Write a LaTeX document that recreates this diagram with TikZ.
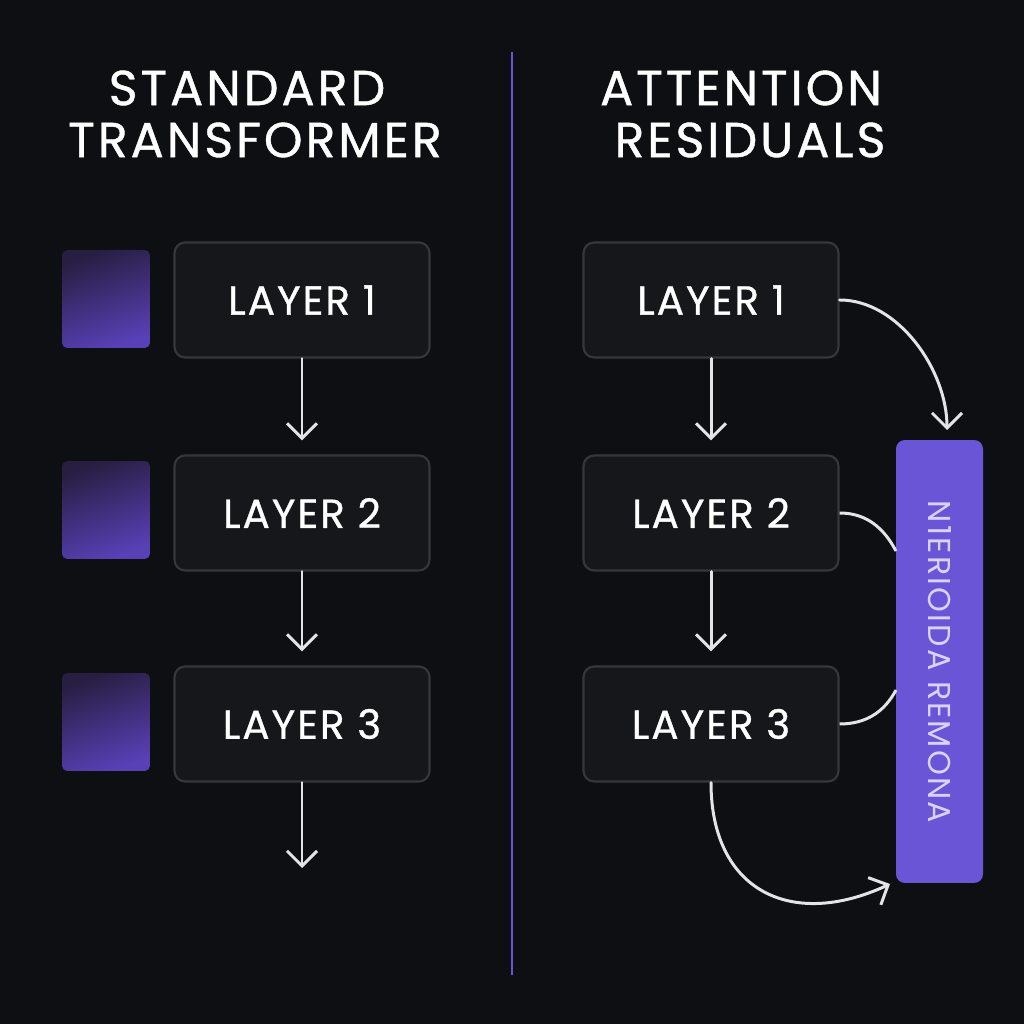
\documentclass[tikz,border=0pt]{standalone}
\usepackage{fontspec}
\setmainfont{Poppins}
\usepackage{xcolor}
\definecolor{bgDark}{RGB}{14, 15, 18}
\definecolor{boxFill}{RGB}{22, 23, 27}
\definecolor{boxLine}{RGB}{54, 55, 61}
\definecolor{wireGray}{RGB}{228, 228, 230}
\definecolor{barPurple}{RGB}{106, 85, 214}
\definecolor{barText}{RGB}{218, 210, 255}
\definecolor{tileDark}{RGB}{40, 30, 66}
\definecolor{tileLight}{RGB}{88, 64, 182}
\usetikzlibrary{arrows.meta, positioning, calc}
\tikzset{
    base/.style={font=\fontsize{28}{30}\selectfont\addfontfeature{LetterSpace=6, FakeBold=0.8}, text=white, align=center},
    layerBox/.style={draw=boxLine, line width=1.2pt, fill=boxFill, rounded corners=6pt,
        minimum width=5.1cm, minimum height=2.3cm, text=white,
        font=\fontsize{23}{25}\selectfont\addfontfeature{LetterSpace=5, FakeBold=0.8}},
    tile/.style={rounded corners=3pt, minimum width=1.76cm, minimum height=1.96cm,
        top color=tileDark, bottom color=tileLight, shading angle=20},
    memBar/.style={fill=barPurple, rounded corners=5pt, minimum width=1.74cm, minimum height=8.86cm},
    arrow/.style={-{Straight Barb[length=3mm, width=6mm]}, line width=1.7pt, draw=wireGray, line cap=round},
    wire/.style={line width=1.7pt, draw=wireGray}
}

\begin{document}
\begin{tikzpicture}[x=0.02cm, y=0.02cm]

    \fill[bgDark] (0,0) rectangle (1024,1024);
    \useasboundingbox (0,0) rectangle (1024,1024);

    % --- TITLES ---
    \node[base] (titleL1) at (247,936) {STANDARD};
    \node[base] (titleL2) at (255,884) {TRANSFORMER};
    \node[base] (titleR1) at (741,936) {ATTENTION};
    \node[base] (titleR2) at (750,884) {RESIDUALS};

    % --- DIVIDER ---
    \coordinate (divTop) at (512,972);
    \coordinate (divBot) at (512,49);
    \draw[barPurple, line width=1.6pt] (divTop) -- (divBot);

    % --- LEFT: STANDARD STACK ---
    \node[layerBox] (l1) at (302,724) {LAYER 1};
    \node[layerBox] (l2) at (302,511) {LAYER 2};
    \node[layerBox] (l3) at (302,300) {LAYER 3};

    \node[tile] (t1) at (106,725) {};
    \node[tile] (t2) at (106,514) {};
    \node[tile] (t3) at (106,302) {};

    \coordinate (outL) at (302,156);
    \draw[arrow, shorten >=0.28cm] (l1) -- (l2);
    \draw[arrow, shorten >=0.28cm] (l2) -- (l3);
    \draw[arrow] (l3) -- (outL);

    % --- RIGHT: ATTENTION RESIDUALS ---
    \node[layerBox] (r1) at (711,724) {LAYER 1};
    \node[layerBox] (r2) at (711,511) {LAYER 2};
    \node[layerBox] (r3) at (711,300) {LAYER 3};

    \node[memBar] (bar) at (939.5,362.5) {};
    \node[rotate=-90, text=barText, font=\fontsize{18}{20}\selectfont\addfontfeature{LetterSpace=7}] (barLabel) at (939.5,362) {N1ERIOIDA REMONA};

    \draw[arrow, shorten >=0.28cm] (r1) -- (r2);
    \draw[arrow, shorten >=0.28cm] (r2) -- (r3);

    % Memory connections
    \coordinate (barTop) at (947,594);
    \coordinate (barIn2) at (896,473);
    \coordinate (barIn3) at (896,334);
    \coordinate (barLow) at (890,140);
    \draw[arrow] (r1.east) to[out=0, in=90, looseness=0.9] (barTop);
    \draw[wire] (r2.east) to[out=0, in=118] (barIn2);
    \draw[wire] (r3.east) to[out=0, in=-118] (barIn3);
    \draw[arrow] (r3.south) to[out=-90, in=205, looseness=1.35] (barLow);

\end{tikzpicture}
\end{document}
